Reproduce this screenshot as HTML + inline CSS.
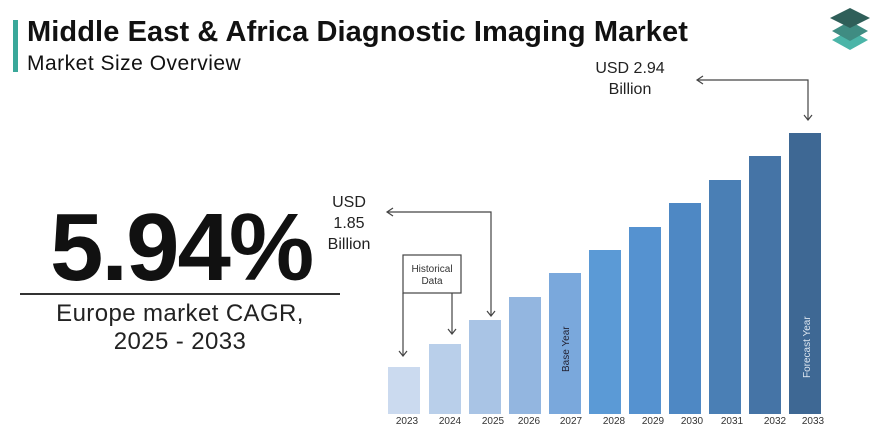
<!DOCTYPE html><html><head><style>
body{margin:0;width:870px;height:445px;background:#fff;font-family:"Liberation Sans",sans-serif;position:relative;overflow:hidden}
.a{position:absolute}
</style></head><body>
<div class="a" style="left:13px;top:20px;width:5px;height:52px;background:#3aa89a"></div>
<div class="a" style="left:27px;top:16px;font-size:29px;font-weight:bold;color:#111;letter-spacing:0.1px">Middle East &amp; Africa Diagnostic Imaging Market</div>
<div class="a" style="left:27px;top:52px;font-size:21px;color:#111;letter-spacing:0.5px">Market Size Overview</div>
<div class="a" style="left:50px;top:193px;font-size:96px;font-weight:bold;color:#111;letter-spacing:-2px">5.94%</div>
<div class="a" style="left:20px;top:293px;width:320px;height:1.5px;background:#333"></div>
<div class="a" style="left:10px;top:300px;width:340px;text-align:center;font-size:24px;color:#222;line-height:28px;letter-spacing:0.4px">Europe market CAGR,<br>2025 - 2033</div>
<div class="a" style="left:590px;top:58px;width:80px;text-align:center;font-size:16px;color:#222;line-height:21px">USD 2.94<br>Billion</div>
<div class="a" style="left:319px;top:192px;width:60px;text-align:center;font-size:16px;color:#222;line-height:21px">USD<br>1.85<br>Billion</div>
<svg class="a" style="left:0;top:0" width="870" height="445">
<g transform="translate(850,0)">
<polygon points="0,30 -18,40 0,50 18,40" fill="#4bb5a8"/>
<polygon points="0,21 -18,31 0,41 18,31" fill="#3f8c82"/>
<polygon points="0,8 -20,18 0,28 20,18" fill="#2f5f59"/>
</g>
<g stroke="#444" stroke-width="1.2" fill="none">
<polyline points="697,80 808,80 808,120"/><polyline points="703,76 697,80 703,84"/><polyline points="804,115 808,120 812,115"/>
<polyline points="387,212 491,212 491,316"/><polyline points="393,208 387,212 393,216"/><polyline points="487,311 491,316 495,311"/>
<rect x="403" y="255" width="58" height="38" fill="#fff"/>
<line x1="403" y1="293" x2="403" y2="356"/><polyline points="399,351 403,356 407,351"/>
<line x1="452" y1="293" x2="452" y2="334"/><polyline points="448,329 452,334 456,329"/>
</g>
<text x="432" y="272" font-size="10" text-anchor="middle" fill="#333">Historical</text>
<text x="432" y="284" font-size="10" text-anchor="middle" fill="#333">Data</text>
<g>
<rect x="388" y="367" width="32" height="47" fill="#cbdaef"/>
<rect x="429" y="344" width="32" height="70" fill="#b9cfea"/>
<rect x="469" y="320" width="32" height="94" fill="#a9c4e5"/>
<rect x="509" y="297" width="32" height="117" fill="#93b6e0"/>
<rect x="549" y="273" width="32" height="141" fill="#7aa8dc"/>
<rect x="589" y="250" width="32" height="164" fill="#5b9ad6"/>
<rect x="629" y="227" width="32" height="187" fill="#5592d0"/>
<rect x="669" y="203" width="32" height="211" fill="#4e88c4"/>
<rect x="709" y="180" width="32" height="234" fill="#4a7fb5"/>
<rect x="749" y="156" width="32" height="258" fill="#4574a6"/>
<rect x="789" y="133" width="32" height="281" fill="#3e6894"/>
</g>
<text transform="translate(569,372) rotate(-90)" font-size="10" fill="#223">Base Year</text>
<text transform="translate(810,378) rotate(-90)" font-size="10" fill="#dde6f0">Forecast Year</text>
<g font-size="10" fill="#333" text-anchor="middle">
<text x="407" y="424">2023</text><text x="450" y="424">2024</text><text x="493" y="424">2025</text><text x="529" y="424">2026</text><text x="571" y="424">2027</text><text x="614" y="424">2028</text><text x="653" y="424">2029</text><text x="692" y="424">2030</text><text x="732" y="424">2031</text><text x="775" y="424">2032</text><text x="813" y="424">2033</text>
</g>
</svg>
</body></html>
